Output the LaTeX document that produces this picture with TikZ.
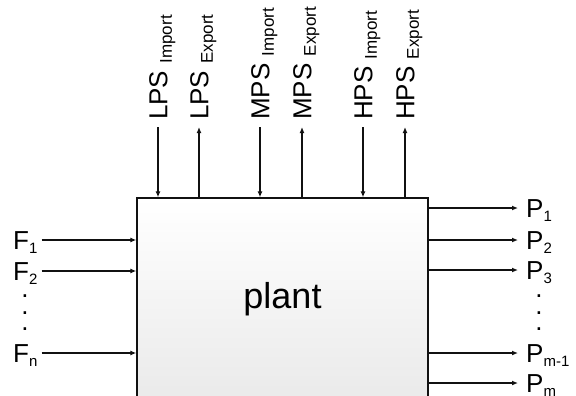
\documentclass[tikz,border=0pt]{standalone}
\usepackage{fontspec}
\setmainfont{Liberation Sans}
\usetikzlibrary{arrows.meta,positioning}
\def\wLine{1.3pt}
\definecolor{cInk}{HTML}{111111}
\definecolor{cShade}{HTML}{EAEAEA}
\newcommand{\idx}[1]{\raisebox{-4pt}{\fontsize{15}{15}\selectfont #1}}
\newcommand{\tidx}[1]{\raisebox{-4.5pt}{\fontsize{17}{17}\selectfont #1}}
\tikzset{
  lbl/.style={font=\fontsize{26}{26}\selectfont, inner sep=0pt, text height=18.6pt, text depth=0pt},
  toplbl/.style={lbl, rotate=90, anchor=west},
  dots/.style={font=\fontsize{26}{16.5}\selectfont, inner sep=0pt, align=center},
  plantbox/.style={draw=cInk, line width=\wLine, top color=white, bottom color=cShade,
    minimum width=291pt, minimum height=202pt, inner sep=0pt, font=\fontsize{36}{36}\selectfont},
  flow/.style={draw=cInk, line width=\wLine, -{Latex[length=6pt,width=5pt]}},
}

\begin{document}
\begin{tikzpicture}[x=1pt, y=-1pt]
\useasboundingbox (0,0) rectangle (576,396);
% plant box runs on past the bottom edge
\node[plantbox] (plant) at (282.5,299) {plant};

% ---- steam levels on top: import goes down, export goes up
\node[toplbl] (lpsI) at (158,120) {LPS \tidx{Import}};
\node[toplbl] (lpsE) at (199,120) {LPS \tidx{Export}};
\node[toplbl] (mpsI) at (260,120) {MPS \tidx{Import}};
\node[toplbl] (mpsE) at (302,120) {MPS \tidx{Export}};
\node[toplbl] (hpsI) at (363,120) {HPS \tidx{Import}};
\node[toplbl] (hpsE) at (405,120) {HPS \tidx{Export}};
\draw[flow] ([yshift=-7pt]lpsI.west) -- (lpsI.west |- plant.north);
\draw[flow] (lpsE.west |- plant.north) -- ([yshift=-7pt]lpsE.west);
\draw[flow] ([yshift=-7pt]mpsI.west) -- (mpsI.west |- plant.north);
\draw[flow] (mpsE.west |- plant.north) -- ([yshift=-7pt]mpsE.west);
\draw[flow] ([yshift=-7pt]hpsI.west) -- (hpsI.west |- plant.north);
\draw[flow] (hpsE.west |- plant.north) -- ([yshift=-7pt]hpsE.west);

% ---- feeds on the left
\node[lbl, anchor=west] (f1) at (13,240) {F\idx{1}};
\node[lbl, anchor=west] (f2) at (13,271) {F\idx{2}};
\node[dots] (fdots) at (25,313) {.\\.\\.};
\node[lbl, anchor=west] (fn) at (13,353) {F\idx{n}};
\draw[flow] ([xshift=4pt]f1.east) -- (f1 -| plant.west);
\draw[flow] ([xshift=4pt]f2.east) -- (f2 -| plant.west);
\draw[flow] ([xshift=4pt]fn.east) -- (fn -| plant.west);

% ---- products on the right
\node[lbl, anchor=west] (p1) at (526,208) {P\idx{1}};
\node[lbl, anchor=west] (p2) at (526,240) {P\idx{2}};
\node[lbl, anchor=west] (p3) at (526,270) {P\idx{3}};
\node[dots] (pdots) at (539,313) {.\\.\\.};
\node[lbl, anchor=west] (pm1) at (526,353) {P\idx{m-1}};
\node[lbl, anchor=west] (pm) at (526,383) {P\idx{m}};
\draw[flow] (p1 -| plant.east) -- ([xshift=-8pt]p1.west);
\draw[flow] (p2 -| plant.east) -- ([xshift=-8pt]p2.west);
\draw[flow] (p3 -| plant.east) -- ([xshift=-8pt]p3.west);
\draw[flow] (pm1 -| plant.east) -- ([xshift=-8pt]pm1.west);
\draw[flow] (pm -| plant.east) -- ([xshift=-8pt]pm.west);
\end{tikzpicture}
\end{document}
